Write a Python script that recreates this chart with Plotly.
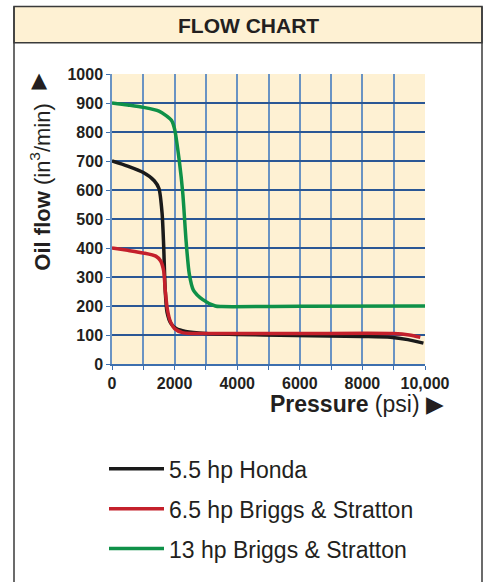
import plotly.graph_objects as go

# ---- data ----
honda_p = [0, 500, 1000, 1350, 1500, 1600, 1650, 1700, 1760, 1880, 2050, 2350, 3000, 4850, 8000, 8900, 9450, 9950]
honda_f = [700, 682, 660, 632, 605, 520, 410, 255, 178, 140, 122, 112, 105, 100, 95, 92, 84, 72]

bs65_p = [0, 500, 1000, 1400, 1550, 1650, 1700, 1770, 1870, 2000, 2250, 2550, 2750, 6000, 9000, 9500, 9850]
bs65_f = [400, 392, 383, 372, 356, 322, 255, 188, 145, 122, 108, 105, 105, 105, 105, 100, 92]

bs13_p = [0, 500, 1000, 1500, 1900, 2000, 2150, 2260, 2370, 2470, 2600, 2900, 3300, 3500, 6000, 10000]
bs13_f = [900, 893, 885, 872, 840, 810, 700, 590, 420, 310, 255, 222, 200, 198, 199, 200]

series_names = ["5.5 hp Honda", "6.5 hp Briggs & Stratton", "13 hp Briggs & Stratton"]
series_colors = ["#1a1a1a", "#c4202b", "#0f9148"]

x_tickvals = [0, 2000, 4000, 6000, 8000, 10000]
x_ticktext = ["0", "2000", "4000", "6000", "8000", "10,000"]
y_tickvals = list(range(0, 1001, 100))

FONT = "Liberation Sans, Arial, sans-serif"
TXT = "#231f20"
BG = "#fef1d3"

fig = go.Figure()
for i, (xs, ys) in enumerate([(honda_p, honda_f), (bs65_p, bs65_f), (bs13_p, bs13_f)]):
    fig.add_trace(go.Scatter(
        x=xs, y=ys, mode="lines", name=series_names[i],
        line=dict(color=series_colors[i], width=3.5, shape="spline", smoothing=0.7),
        legendgroup=str(i),
    ))

# page geometry (body margin removed in post_script)
W, H = 487, 582
PL, PR, PT, PB = 112, 425, 74, 370          # plot area in page pixels
L, T = PL, PT
R, B = W - PR, H - PB
pw, ph = PR - PL, PB - PT


def px(x):
    return (x - PL) / pw


def py(y):
    return (PB - y) / ph


shapes = [
    dict(type="rect", xref="paper", yref="paper", x0=px(14), x1=px(482), y0=py(42), y1=py(5),
         fillcolor=BG, line=dict(color="#3a3a3a", width=1.5), layer="below"),
    dict(type="line", xref="paper", yref="paper", x0=px(14), x1=px(14), y0=py(5), y1=py(600),
         line=dict(color="#3a3a3a", width=1.5)),
    dict(type="line", xref="paper", yref="paper", x0=px(482), x1=px(482), y0=py(5), y1=py(600),
         line=dict(color="#3a3a3a", width=1.5)),
]

annotations = [
    dict(text="<b>FLOW CHART</b>", xref="paper", yref="paper", x=px(248), y=py(24),
         showarrow=False, font=dict(size=21, color=TXT, family=FONT), xanchor="center", yanchor="middle"),
    dict(text="<b>Oil flow</b> (in<sup>3</sup>/min)", xref="paper", yref="paper", x=px(40), y=py(190),
         textangle=-90, showarrow=False, font=dict(size=22, color=TXT, family=FONT),
         xanchor="center", yanchor="middle"),
    dict(text="▲", xref="paper", yref="paper", x=px(39), y=py(80),
         showarrow=False, font=dict(size=21, color=TXT, family="DejaVu Sans"),
         xanchor="center", yanchor="middle"),
    dict(text="<b>Pressure</b> (psi) ▶", xref="paper", yref="paper", x=px(446), y=py(411),
         showarrow=False, font=dict(size=23, color=TXT, family=FONT),
         xanchor="right", yanchor="middle"),
]

fig.update_layout(
    width=W, height=H,
    margin=dict(l=L, r=R, t=T, b=B, pad=0),
    paper_bgcolor="white", plot_bgcolor=BG,
    font=dict(family=FONT, color=TXT),
    shapes=shapes, annotations=annotations,
    showlegend=True,
    legend=dict(x=px(104), y=py(455), xanchor="left", yanchor="top",
                font=dict(size=23, color=TXT, family=FONT),
                itemwidth=55, tracegroupgap=7, bgcolor="rgba(0,0,0,0)"),
    xaxis=dict(range=[0, 10000], showgrid=True,
               gridcolor="#6a93c3", gridwidth=1.5,
               tickmode="array", tickvals=x_tickvals, ticktext=x_ticktext,
               minor=dict(dtick=1000, showgrid=True, gridcolor="#6a93c3", gridwidth=1.5,
                          ticks="outside", ticklen=4, tickcolor="#3d6fae"),
               ticks="outside", ticklen=4, tickcolor="#3d6fae",
               showline=True, linecolor="#3d6fae", linewidth=1.5,
               zeroline=False, tickfont=dict(size=16, color=TXT, family=FONT, weight="bold"),
               fixedrange=True),
    yaxis=dict(range=[0, 1000], tickvals=y_tickvals, showgrid=True,
               gridcolor="#2a5795", gridwidth=1.5,
               ticks="outside", ticklen=4, tickcolor="#3d6fae",
               showline=True, linecolor="#6a93c3", linewidth=1.5,
               zeroline=False, tickfont=dict(size=16, color=TXT, family=FONT, weight="bold"),
               fixedrange=True),
)

fig.write_html(
    "out.html",
    config={"displayModeBar": False},
    post_script="document.body.style.margin='0';document.documentElement.style.overflow='hidden';",
)
